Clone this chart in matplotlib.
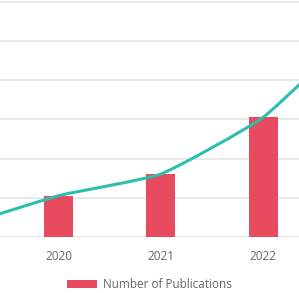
import numpy as np
import matplotlib
matplotlib.use("Agg")
import matplotlib.pyplot as plt
from matplotlib.path import Path
from matplotlib.patches import PathPatch, Patch

# ---- data ----
years = ["2020", "2021", "2022"]
publications = [1.06, 1.61, 3.05]
trend_x = [-1, 0, 1, 2, 3]
trend_y = [0.25, 1.06, 1.61, 3.05, 5.5]

BAR_COLOR = "#e84a5f"
LINE_COLOR = "#2cbfae"
GRID_COLOR = "#e4e4e4"
TEXT_COLOR = "#666666"
TENSION = 0.15

W, H = 299, 293
fig = plt.figure(figsize=(W / 100, H / 100), dpi=100)
base_px = 237.3
ax = fig.add_axes([0, (H - base_px) / H, 1, base_px / H])

px_per_x = 102.1
c0 = 58.8
ax.set_xlim(-c0 / px_per_x, (W - c0) / px_per_x)
px_per_y = 39.3
ax.set_ylim(0, base_px / px_per_y)

xs = np.arange(len(years))
ax.bar(xs, publications, width=29 / px_per_x, color=BAR_COLOR, zorder=2)

# Chart.js-style bezier spline (computed in pixel-scaled space)
P = np.column_stack([np.array(trend_x, float) * px_per_x,
                     np.array(trend_y, float) * px_per_y])
n = len(P)
cp_in = np.zeros_like(P)
cp_out = np.zeros_like(P)
for i in range(n):
    prev = P[max(i - 1, 0)]
    cur = P[i]
    nxt = P[min(i + 1, n - 1)]
    d01 = np.hypot(*(cur - prev))
    d12 = np.hypot(*(nxt - cur))
    tot = d01 + d12
    s01 = d01 / tot if tot else 0
    s12 = d12 / tot if tot else 0
    cp_in[i] = cur - TENSION * s01 * (nxt - prev)
    cp_out[i] = cur + TENSION * s12 * (nxt - prev)
scale = np.array([px_per_x, px_per_y])
verts = [tuple(P[0] / scale)]
codes = [Path.MOVETO]
for i in range(n - 1):
    verts += [tuple(cp_out[i] / scale), tuple(cp_in[i + 1] / scale),
              tuple(P[i + 1] / scale)]
    codes += [Path.CURVE4] * 3
ax.add_patch(PathPatch(Path(verts, codes), fill=False, edgecolor=LINE_COLOR,
                       lw=2.2, zorder=3, capstyle="round", joinstyle="round"))

ax.set_yticks(np.arange(0, 7))
ax.yaxis.grid(True, color=GRID_COLOR, lw=1.2, zorder=0)
ax.set_axisbelow(True)
for s in ax.spines.values():
    s.set_visible(False)
ax.tick_params(axis="y", left=False, labelleft=False)
ax.set_xticks(xs)
ax.set_xticklabels(years)
ax.tick_params(axis="x", length=0, pad=9, labelsize=8.5, labelcolor=TEXT_COLOR)
for lab in ax.get_xticklabels():
    lab.set_fontfamily("Open Sans")

handle = Patch(facecolor=BAR_COLOR, edgecolor="none")
fig.legend([handle], ["Number of Publications"], loc="center",
           bbox_to_anchor=(149.5 / W, 8 / H), frameon=False,
           prop={"family": "Open Sans", "size": 8.5},
           labelcolor=TEXT_COLOR, handlelength=2.5, handleheight=0.65,
           handletextpad=0.55, borderpad=0, borderaxespad=0)

fig.savefig("out.png", dpi=100)
